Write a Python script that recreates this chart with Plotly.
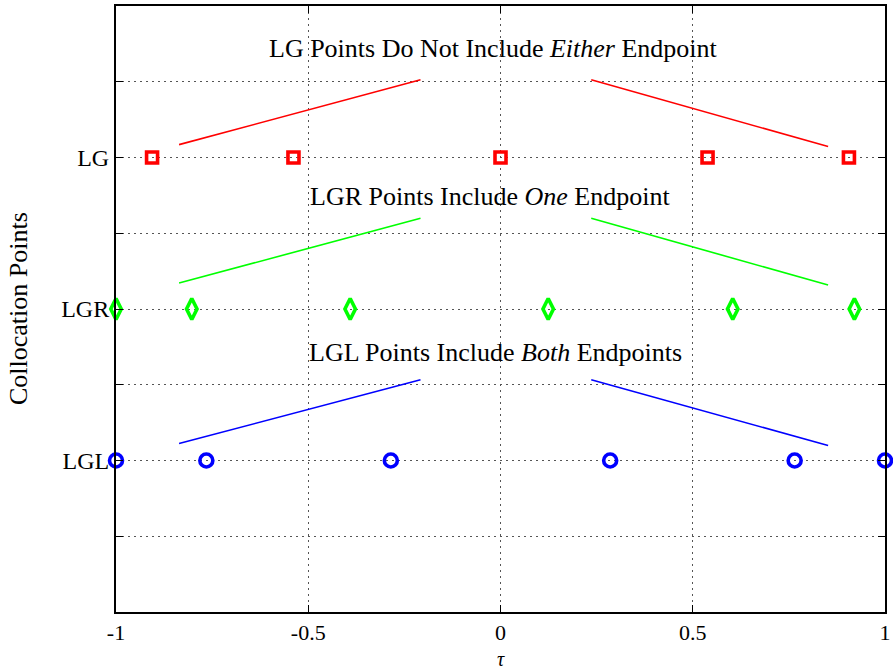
import plotly.graph_objects as go

# ---- data ----
lg_tau = [-0.90618, -0.538469, 0.0, 0.538469, 0.90618]
lgr_tau = [-1.0, -0.802929, -0.390928, 0.124050, 0.603973, 0.920380]
lgl_tau = [-1.0, -0.765055, -0.285232, 0.285232, 0.765055, 1.0]
level_lg, level_lgr, level_lgl = 3, 2, 1

ytick_vals = [0, 0.5, 1, 1.5, 2, 2.5, 3, 3.5, 4]
ytick_text = ["", "", "LGL", "", "LGR", "", "LG", "", ""]
xtick_vals = [-1, -0.5, 0, 0.5, 1]
xtick_text = ["-1", "-0.5", "0", "0.5", "1"]

# pointer lines (left segment, right segment) per family
seg_x = [-0.836, -0.208, None, 0.236, 0.852]
lg_seg_y = [3.085, 3.513, None, 3.513, 3.072]
lgr_seg_y = [2.171, 2.599, None, 2.599, 2.158]
lgl_seg_y = [1.112, 1.533, None, 1.533, 1.099]

labels = [
    ("LG Points Do Not Include <i>Either</i> Endpoint", -0.608, 3.717),
    ("LGR Points Include <i>One</i> Endpoint", -0.501, 2.743),
    ("LGL Points Include <i>Both</i> Endpoints", -0.504, 1.71),
]

RED, GREEN, BLUE = "#ff0000", "#00ff00", "#0000ff"
FONT = "Liberation Serif"
FS = 26
TFS = 24
XTFS = 22

fig = go.Figure()
for sy, c in [(lg_seg_y, RED), (lgr_seg_y, GREEN), (lgl_seg_y, BLUE)]:
    fig.add_trace(go.Scatter(x=seg_x, y=sy, mode="lines",
                             line=dict(color=c, width=1.6), hoverinfo="skip"))

fig.add_trace(go.Scatter(x=lg_tau, y=[level_lg] * len(lg_tau), mode="markers",
                         marker=dict(symbol="square-open", size=11, color=RED,
                                     line=dict(color=RED, width=3.6)),
                         cliponaxis=False))
fig.add_trace(go.Scatter(x=lgr_tau, y=[level_lgr] * len(lgr_tau), mode="markers",
                         marker=dict(symbol="diamond-tall-open", size=15, color=GREEN,
                                     line=dict(color=GREEN, width=3.6)),
                         cliponaxis=False))
fig.add_trace(go.Scatter(x=lgl_tau, y=[level_lgl] * len(lgl_tau), mode="markers",
                         marker=dict(symbol="circle-open", size=13, color=BLUE,
                                     line=dict(color=BLUE, width=3.6)),
                         cliponaxis=False))

for txt, x, y in labels:
    fig.add_annotation(x=x, y=y, xref="x", yref="y", text=txt, showarrow=False,
                       xanchor="left", yanchor="middle",
                       font=dict(family=FONT, size=FS, color="black"))

fig.add_annotation(x=0, y=0.5, xref="paper", yref="paper", xshift=-98,
                   text="Collocation Points", textangle=-90, showarrow=False,
                   xanchor="center", yanchor="middle",
                   font=dict(family=FONT, size=FS, color="black"))
fig.add_annotation(x=0.5, y=0, xref="paper", yref="paper", yshift=-59,
                   text="<i>τ</i>", showarrow=False, borderpad=0,
                   xanchor="center", yanchor="bottom",
                   font=dict(family=FONT, size=20, color="black"))

axis_common = dict(showline=True, linecolor="black", linewidth=2, mirror="ticks",
                   ticks="inside", ticklen=7, tickwidth=1, tickcolor="black",
                   showgrid=True, gridcolor="#555555", gridwidth=1,
                   griddash="1.5px,4.5px",
                   zeroline=False, automargin=False)

fig.update_xaxes(range=[-1, 1], tickmode="array", tickvals=xtick_vals,
                 ticktext=xtick_text,
                 tickfont=dict(family=FONT, size=XTFS, color="black"), **axis_common)
fig.update_yaxes(range=[0, 4], tickmode="array", tickvals=ytick_vals,
                 ticktext=ytick_text,
                 tickfont=dict(family=FONT, size=TFS, color="black"), **axis_common)

fig.update_layout(width=893, height=671, showlegend=False,
                  margin=dict(l=116, r=8, t=6, b=59),
                  paper_bgcolor="white", plot_bgcolor="white")

fig.write_html("out.html")
